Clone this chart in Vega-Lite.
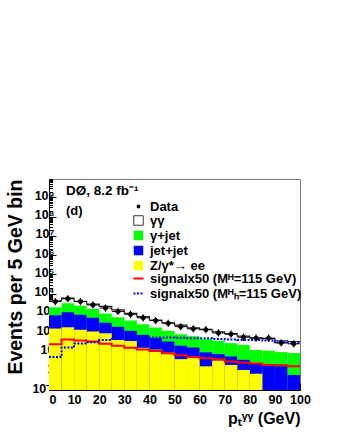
{
  "$schema": "https://vega.github.io/schema/vega-lite/v6.json",
  "width": 251,
  "height": 211,
  "autosize": "none",
  "padding": {"left": 49, "top": 179, "right": 40, "bottom": 50},
  "background": "white",
  "config": {
    "font": "Liberation Sans",
    "view": {"stroke": "#777777", "strokeWidth": 1},
    "axis": {"labelFont": "Liberation Sans", "labelFontWeight": "bold", "labelFontSize": 12.5, "labelColor": "black", "domainColor": "black", "tickColor": "black", "grid": false, "titleFont": "Liberation Sans", "titleFontWeight": "bold", "titleColor": "black"},
    "legend": {"labelFont": "Liberation Sans", "labelFontWeight": "bold", "labelFontSize": 13, "labelColor": "black", "orient": "none", "padding": 0, "rowPadding": 1, "titlePadding": 0, "labelLimit": 300}
  },
  "title": {"text": "DØ, 8.2 fb⁻¹", "subtitle": "(d)", "anchor": "start", "frame": "group", "orient": "top", "offset": 0, "dx": 17, "dy": 47, "font": "Liberation Sans", "fontSize": 13.5, "fontWeight": "bold", "color": "black", "subtitleFont": "Liberation Sans", "subtitleFontSize": 13, "subtitleFontWeight": "bold", "subtitleColor": "black", "subtitlePadding": 8},
  "datasets": {
    "h": [
      {"lo": 0, "hi": 5, "mid": 2.5, "total": 4300, "data": 3900, "gj": 1950, "jj": 750, "z": 155, "sig": 24, "sigH": 5.1},
      {"lo": 5, "hi": 10, "mid": 7.5, "total": 5900, "data": 5500, "gj": 3200, "jj": 1080, "z": 180, "sig": 42, "sigH": 16},
      {"lo": 10, "hi": 15, "mid": 12.5, "total": 4000, "data": 3900, "gj": 2340, "jj": 800, "z": 133, "sig": 37, "sigH": 26},
      {"lo": 15, "hi": 20, "mid": 17.5, "total": 2850, "data": 2600, "gj": 1620, "jj": 560, "z": 109, "sig": 33, "sigH": 30},
      {"lo": 20, "hi": 25, "mid": 22.5, "total": 2200, "data": 1800, "gj": 950, "jj": 310, "z": 88, "sig": 25, "sigH": 40},
      {"lo": 25, "hi": 30, "mid": 27.5, "total": 1450, "data": 1200, "gj": 600, "jj": 190, "z": 40, "sig": 20, "sigH": 45},
      {"lo": 30, "hi": 35, "mid": 32.5, "total": 950, "data": 850, "gj": 400, "jj": 118, "z": 35, "sig": 15.5, "sigH": 48},
      {"lo": 35, "hi": 40, "mid": 37.5, "total": 640, "data": 560, "gj": 263, "jj": 73, "z": 15.5, "sig": 12.5, "sigH": 50},
      {"lo": 40, "hi": 45, "mid": 42.5, "total": 430, "data": 400, "gj": 175, "jj": 49, "z": 12.5, "sig": 10.5, "sigH": 53},
      {"lo": 45, "hi": 50, "mid": 47.5, "total": 310, "data": 290, "gj": 118, "jj": 33, "z": 9, "sig": 8, "sigH": 53},
      {"lo": 50, "hi": 55, "mid": 52.5, "total": 235, "data": 195, "gj": 78, "jj": 20, "z": 4, "sig": 6.4, "sigH": 52},
      {"lo": 55, "hi": 60, "mid": 57.5, "total": 170, "data": 150, "gj": 62, "jj": 16, "z": 4.5, "sig": 5.1, "sigH": 49},
      {"lo": 60, "hi": 65, "mid": 62.5, "total": 140, "data": 135, "gj": 45, "jj": 9, "z": 1.7, "sig": 4.5, "sigH": 48},
      {"lo": 65, "hi": 70, "mid": 67.5, "total": 105, "data": 92, "gj": 36, "jj": 7.3, "z": 3.4, "sig": 4, "sigH": 44},
      {"lo": 70, "hi": 75, "mid": 72.5, "total": 84, "data": 80, "gj": 27, "jj": 5.5, "z": 2, "sig": 3, "sigH": 42},
      {"lo": 75, "hi": 80, "mid": 77.5, "total": 62, "data": 55, "gj": 22, "jj": 3.7, "z": 1.1, "sig": 2.7, "sigH": 40},
      {"lo": 80, "hi": 85, "mid": 82.5, "total": 51, "data": 49, "gj": 12, "jj": 2.5, "z": 0.7, "sig": 2.4, "sigH": 40},
      {"lo": 85, "hi": 90, "mid": 87.5, "total": 47, "data": 49, "gj": 11, "jj": 2.2, "z": 0, "sig": 2, "sigH": 37},
      {"lo": 90, "hi": 95, "mid": 92.5, "total": 36, "data": 28, "gj": 9.3, "jj": 1.7, "z": 0, "sig": 1.9, "sigH": 30},
      {"lo": 95, "hi": 100, "mid": 97.5, "total": 33, "data": 25, "gj": 8.3, "jj": 0.6, "z": 0, "sig": 1.7, "sigH": 29}
    ]
  },
  "data": {"name": "h"},
  "encoding": {
    "x": {"field": "lo", "type": "quantitative",
      "scale": {"domain": [0, 100], "nice": false, "zero": false},
      "axis": {
        "values": [0,2,4,6,8,10,12,14,16,18,20,22,24,26,28,30,32,34,36,38,40,42,44,46,48,50,52,54,56,58,60,62,64,66,68,70,72,74,76,78,80,82,84,86,88,90,92,94,96,98,100],
        "labelExpr": "datum.value % 10 === 0 ? datum.label : ''",
        "labelOverlap": false, "labelFlush": false,
        "labelAlign": {"condition": {"test": "datum.value === 0", "value": "left"}, "value": "center"},
        "tickSize": {"condition": {"test": "datum.value % 10 === 0", "value": -7}, "value": -3.5},
        "labelPadding": 10,
        "title": "pₜᵞᵞ (GeV)", "titleFontSize": 16, "titleAlign": "right", "titleAnchor": "end", "titleX": 251, "titleY": 28, "titleBaseline": "middle"
      }
    }
  },
  "layer": [
    {
      "mark": {"type": "bar"},
      "encoding": {
        "x2": {"field": "hi"},
        "y": {"field": "total", "type": "quantitative",
          "scale": {"type": "log", "domain": [0.1, 9000000000], "nice": false},
          "axis": {
            "values": [0.1,0.2,0.3,0.4,0.5,0.6,0.7,0.8,0.9,1,2,3,4,5,6,7,8,9,10,20,30,40,50,60,70,80,90,100,200,300,400,500,600,700,800,900,1000,2000,3000,4000,5000,6000,7000,8000,9000,10000,20000,30000,40000,50000,60000,70000,80000,90000,100000,200000,300000,400000,500000,600000,700000,800000,900000,1000000,2000000,3000000,4000000,5000000,6000000,7000000,8000000,9000000,10000000,20000000,30000000,40000000,50000000,60000000,70000000,80000000,90000000,100000000,200000000,300000000,400000000,500000000,600000000,700000000,800000000,900000000,1000000000,2000000000,3000000000,4000000000,5000000000,6000000000,7000000000,8000000000,9000000000],
            "labelExpr": "abs(log(datum.value)/LN10 - round(log(datum.value)/LN10)) < 0.000001 ? ['10⁻¹','1','10','10²','10³','10⁴','10⁵','10⁶','10⁷','10⁸','10⁹'][round(log(datum.value)/LN10)+1] : ''",
            "labelOverlap": false, "labelFlush": false,
            "labelOffset": -2,
            "tickSize": {"condition": {"test": "abs(log(datum.value)/LN10 - round(log(datum.value)/LN10)) < 0.000001", "value": -7}, "value": -3.5},
            "labelPadding": 2,
            "title": "Events per 5 GeV bin", "titleFontSize": 19.5, "titleAlign": "right", "titleX": -34, "titleY": 0, "titleBaseline": "middle", "titleAngle": -90
          }
        },
        "y2": {"datum": 0.1},
        "fill": {"datum": "γγ", "type": "nominal",
          "scale": {"domain": ["γγ", "γ+jet", "jet+jet", "Z/γ*→ ee"], "range": ["#ffffff", "#00ff00", "#0000ff", "#ffff00"]},
          "legend": {"title": null, "legendX": 83, "legendY": 35, "symbolType": "square", "symbolSize": 90, "labelOffset": 5,
            "encode": {"symbols": {"update": {"stroke": {"signal": "datum.index === 0 ? '#000000' : 'transparent'"}, "strokeWidth": {"value": 0.8}}}}}
        }
      }
    },
    {
      "mark": {"type": "bar"},
      "encoding": {"x2": {"field": "hi"}, "y": {"field": "gj", "type": "quantitative"}, "y2": {"datum": 0.1}, "fill": {"datum": "γ+jet", "type": "nominal"}}
    },
    {
      "mark": {"type": "bar"},
      "encoding": {"x2": {"field": "hi"}, "y": {"field": "jj", "type": "quantitative"}, "y2": {"datum": 0.1}, "fill": {"datum": "jet+jet", "type": "nominal"}}
    },
    {
      "transform": [{"filter": "datum.z > 0"}],
      "mark": {"type": "bar"},
      "encoding": {"x2": {"field": "hi"}, "y": {"field": "z", "type": "quantitative"}, "y2": {"datum": 0.1}, "fill": {"datum": "Z/γ*→ ee", "type": "nominal"}}
    },
    {
      "transform": [{"fold": ["lo", "hi"], "as": ["side", "edge"]}],
      "mark": {"type": "line", "color": "#222222", "strokeWidth": 1.2},
      "encoding": {
        "x": {"field": "edge", "type": "quantitative"},
        "y": {"field": "total", "type": "quantitative"},
        "order": [{"field": "edge", "type": "quantitative"}, {"field": "side", "type": "nominal", "sort": "ascending"}]
      }
    },
    {
      "transform": [{"fold": ["lo", "hi"], "as": ["side", "edge"]}],
      "mark": {"type": "line", "strokeWidth": 2},
      "encoding": {
        "x": {"field": "edge", "type": "quantitative"},
        "y": {"field": "sig", "type": "quantitative"},
        "order": [{"field": "edge", "type": "quantitative"}, {"field": "side", "type": "nominal", "sort": "ascending"}],
        "stroke": {"datum": "signalx50 (Mᴴ=115 GeV)", "type": "nominal",
          "scale": {"domain": ["signalx50 (Mᴴ=115 GeV)", "signalx50 (Mᴴₕ=115 GeV)"], "range": ["#ff0000", "#0000ff"]},
          "legend": {"title": null, "legendX": 83, "legendY": 93, "symbolType": "stroke", "symbolSize": 100, "symbolStrokeWidth": 2, "labelOffset": 5,
            "encode": {"symbols": {"update": {"strokeDash": {"signal": "datum.index === 1 ? [2, 1.5] : [1, 0]"}}}}}
        }
      }
    },
    {
      "transform": [{"fold": ["lo", "hi"], "as": ["side", "edge"]}],
      "mark": {"type": "line", "strokeWidth": 2, "strokeDash": [2, 1.5]},
      "encoding": {
        "x": {"field": "edge", "type": "quantitative"},
        "y": {"field": "sigH", "type": "quantitative"},
        "order": [{"field": "edge", "type": "quantitative"}, {"field": "side", "type": "nominal", "sort": "ascending"}],
        "stroke": {"datum": "signalx50 (Mᴴₕ=115 GeV)", "type": "nominal"}
      }
    },
    {
      "mark": {"type": "point", "filled": true, "fill": "#000000", "stroke": "#000000", "strokeWidth": 1, "size": 150, "opacity": 1},
      "encoding": {
        "x": {"field": "mid", "type": "quantitative"},
        "y": {"field": "data", "type": "quantitative"},
        "shape": {"datum": "Data", "type": "nominal",
          "scale": {"domain": ["Data"], "range": ["M-1,0H1M0,-0.6V0.6M0.36,0A0.36,0.36,0,1,1,-0.36,0A0.36,0.36,0,1,1,0.36,0Z"]},
          "legend": {"title": null, "legendX": 83, "legendY": 21, "symbolSize": 110, "symbolFillColor": "#000000", "symbolStrokeColor": "#000000", "symbolStrokeWidth": 1, "labelOffset": 5}
        }
      }
    }
  ]
}
